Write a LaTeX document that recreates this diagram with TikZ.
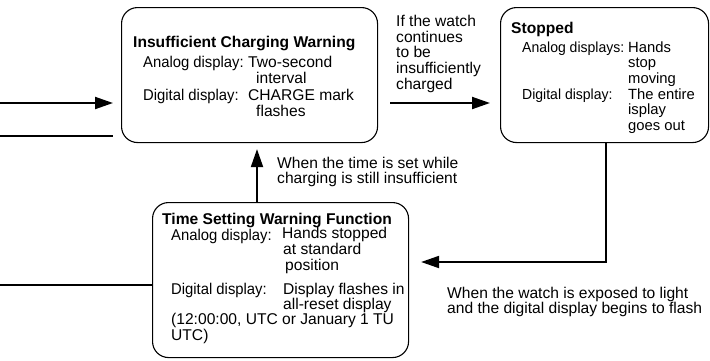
\documentclass[tikz,border=0pt]{standalone}
\usepackage{fontspec}
\setmainfont{Liberation Sans}
\newfontfamily\lblfont[FakeStretch=0.95]{Liberation Sans}
\newfontfamily\stoplblfont[FakeStretch=0.96]{Liberation Sans}
\usetikzlibrary{arrows.meta}

% multi-line nodes sit on the baseline of their last line
\tikzset{
  statebox/.style={draw, line width=1.1pt, rounded corners=16pt, inner sep=0pt, anchor=north west},
  txt/.style={anchor=base west, inner sep=0pt, align=left, font=\fontsize{15.6}{15.6}\selectfont},
  lbl/.style={txt, font=\lblfont\fontsize{15.6}{15.6}\selectfont},
  ttl/.style={txt, font=\fontsize{15.6}{15.6}\selectfont\bfseries},
  smalltxt/.style={txt, font=\fontsize{14.8}{15.5}\selectfont},
  smalllbl/.style={txt, font=\stoplblfont\fontsize{14.6}{15.5}\selectfont},
  flow/.style={line width=2pt, -{Triangle[length=18pt,width=12pt]}},
  plain/.style={line width=2pt},
}

\begin{document}
\begin{tikzpicture}[x=1pt,y=1pt,yscale=-1]
	\useasboundingbox (0,0) rectangle (710,360);
	
	%Boxes
	\node [statebox, minimum width=256pt, minimum height=135pt] (chgwarn) at (121,7) {};
	\node [statebox, minimum width=208pt, minimum height=135pt] (stopped) at (500,7) {};
	\node [statebox, minimum width=256pt, minimum height=155pt] (timeset) at (152,202) {};
	
	% Text Node: Insufficient Charging Warning
	\node [ttl] (chgttl) at (133,47) {Insufficient Charging Warning};
	\node [lbl] (chganalog) at (143,67) {Analog display:};
	\node [txt] (chganalogv) at (248,83) {Two-second\\\hspace{8pt}interval};
	\node [lbl] (chgdigital) at (143,100) {Digital display:};
	\node [txt] (chgdigitalv) at (248,116) {CHARGE mark\\\hspace{8pt}flashes};
	
	% Text Node: Stopped
	\node [ttl] (stopttl) at (511,33) {Stopped};
	\node [smalllbl] (stopanalog) at (522,52) {Analog displays:};
	\node [smalltxt] (stopanalogv) at (628,83) {Hands\\stop\\moving};
	\node [smalllbl] (stopdigital) at (522,99) {Digital display:};
	\node [smalltxt] (stopdigitalv) at (628,130) {The entire\\isplay\\goes out};
	
	% Text Node: Time Setting Warning Function
	\node [ttl] (setttl) at (162,224) {Time Setting Warning Function};
	\node [lbl] (setanalog) at (171,240) {Analog display:};
	\node [txt] (setanalogv) at (282,270) {Hands stopped\\\hspace{1pt}at standard\\\hspace{3pt}position};
	\node [lbl] (setdigital) at (171,294) {Digital display:};
	\node [txt] (setdigitalv) at (283,309.6) {Display flashes in\\all-reset display};
	\node [txt, font=\fontsize{15.6}{14.5}\selectfont] (setnote) at (171,340) {(12:00:00, UTC or January 1 TU\\UTC)};
	
	% Text Node: connector labels
	\node [txt] (contlbl) at (396,89) {If the watch\\continues\\to be\\insufficiently\\charged};
	\node [txt] (setlbl) at (277,183.6) {When the time is set while\\charging is still insufficient};
	\node [txt] (lightlbl) at (447,313.6) {When the watch is exposed to light\\and the digital display begins to flash};
	
	%Connectors
	\coordinate (inA) at (0,103);
	\coordinate (inB) at (0,136);
	\coordinate (inC) at (0,285);
	\coordinate (upx) at (257,0);
	\coordinate (dnx) at (606,0);
	\coordinate (lty) at (0,262);
	
	\draw [flow, shorten >=8pt] (inA) -- (chgwarn.west |- inA);
	\draw [plain, shorten >=8pt] (inB) -- (chgwarn.west |- inB);
	\draw [flow, shorten <=12pt, shorten >=10pt] (chgwarn.east |- inA) -- (stopped.west |- inA);
	\draw [plain] (inC) -- (timeset.west |- inC);
	\draw [flow, shorten >=6pt] (timeset.north -| upx) -- (chgwarn.south -| upx);
	\draw [flow, shorten >=12pt] (stopped.south -| dnx) |- (timeset.east |- lty);
\end{tikzpicture}
\end{document}
